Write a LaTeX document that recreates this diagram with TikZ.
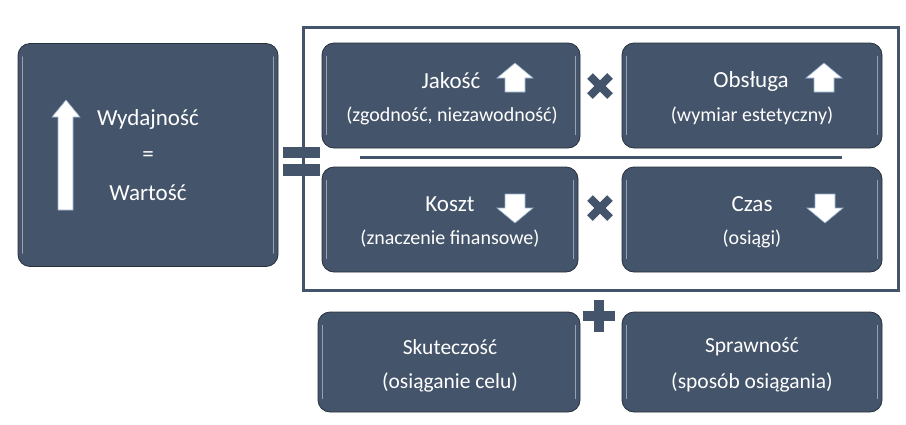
\documentclass[tikz,border=0pt]{standalone}
\usepackage{fontspec}
\setmainfont{Carlito}
\definecolor{slate}{RGB}{68,84,106}
\definecolor{slatedark}{RGB}{40,48,60}
\definecolor{edgeblue}{RGB}{150,175,205}
\tikzset{
  box/.style={draw=slatedark, line width=0.8pt, fill=slate, rounded corners=12pt, minimum width=#1, minimum height=105pt, inner sep=0pt},
  txt/.style={text=white, font=\fontsize{20}{24}\selectfont, inner sep=0pt},
  titletxt/.style={text=white, font=\fontsize{23}{27}\selectfont, inner sep=0pt},
  lefttxt/.style={text=white, font=\fontsize{23}{27}\selectfont, inner sep=0pt},
  bigtxt/.style={text=white, font=\fontsize{21.5}{25}\selectfont, inner sep=0pt},
  blockarrow/.style={fill=white, draw=edgeblue, line width=0.6pt},
  opmark/.style={draw=slate, line width=8pt},
  frame/.style={draw=slate, line width=3pt},
  gloss/.style={draw=white, opacity=0.45, line width=1.5pt, line cap=round}
}
\begin{document}
\begin{tikzpicture}[x=1pt,y=-1pt]
\useasboundingbox (0,0) rectangle (906,424);
% big frame
\node[frame, minimum width=595pt, minimum height=263pt, inner sep=0pt] (frm) at (600.5,158.5) {};
% left box
\node[box=260pt, minimum height=223pt] (wyd) at (148,155) {};
% boxes
\node[box=258pt] (jak) at (451,95.5) {};
\node[box=260pt] (obs) at (752,95.5) {};
\node[box=256pt] (kos) at (450,219.5) {};
\node[box=260pt] (cza) at (752,219.5) {};
\node[box=262pt, minimum height=100pt] (sku) at (449,362) {};
\node[box=260pt, minimum height=100pt] (spr) at (752,362) {};
% gloss edges
\foreach \n in {wyd,jak,obs,kos,cza,sku,spr}{
  \draw[gloss] ([xshift=5pt,yshift=-14pt]\n.north west) -- ([xshift=5pt,yshift=14pt]\n.south west);
  \draw[gloss] ([xshift=-5pt,yshift=-14pt]\n.north east) -- ([xshift=-5pt,yshift=14pt]\n.south east);
}
% divider line
\coordinate (dl) at (360,157);
\coordinate (dr) at (842,157);
\draw[draw=slate, line width=3pt] (dl) -- (dr);
% equals sign
\fill[slate] (283,147) rectangle (320,158);
\fill[slate] (283,164) rectangle (320,176);
% times marks
\coordinate (x1) at (600,86);
\coordinate (x2) at (600,208);
\foreach \c in {x1,x2}{
  \draw[opmark] ([shift={(-10,-10)}]\c) -- ([shift={(10,10)}]\c);
  \draw[opmark] ([shift={(-10,10)}]\c) -- ([shift={(10,-10)}]\c);
}
% plus
\coordinate (pl) at (599,316);
\draw[draw=slate, line width=10pt] ([shift={(-16,0)}]pl) -- ([shift={(16,0)}]pl);
\draw[draw=slate, line width=10pt] ([shift={(0,-16)}]pl) -- ([shift={(0,16)}]pl);
% big up arrow
\draw[blockarrow] (58,210) -- (58,117) -- (52,117) -- (66,100) -- (80,117) -- (73,117) -- (73,210) -- cycle;
% small arrows
\newcommand{\uparr}[2]{\draw[blockarrow] (#1-10,#2+14) -- (#1-10,#2) -- (#1-18,#2) -- (#1,#2-15) -- (#1+18,#2) -- (#1+10,#2) -- (#1+10,#2+14) -- cycle;}
\newcommand{\downarr}[2]{\draw[blockarrow] (#1-10,#2-14) -- (#1-10,#2) -- (#1-18,#2) -- (#1,#2+15) -- (#1+18,#2) -- (#1+10,#2) -- (#1+10,#2-14) -- cycle;}
\uparr{515}{78}
\uparr{824}{78}
\downarr{515}{208}
\downarr{825}{208}
% texts
\node[lefttxt] (t1) at (148,119) {Wydajność};
\node[lefttxt] (t2) at (148,157) {=};
\node[lefttxt] (t3) at (148,193) {Wartość};
\node[titletxt] (j1) at (451,81) {Jakość};
\node[txt] (j2) at (452,116) {(zgodność, niezawodność)};
\node[titletxt] (o1) at (751,81) {Obsługa};
\node[txt] (o2) at (752,116) {(wymiar estetyczny)};
\node[titletxt] (k1) at (450,204) {Koszt};
\node[txt] (k2) at (450,239) {(znaczenie finansowe)};
\node[titletxt] (c1) at (752,204) {Czas};
\node[txt] (c2) at (752,239) {(osiągi)};
\node[bigtxt] (s1) at (450,347) {Skuteczość};
\node[bigtxt] (s2) at (450,382) {(osiąganie celu)};
\node[bigtxt] (p1) at (752,347) {Sprawność};
\node[bigtxt] (p2) at (752,382) {(sposób osiągania)};
\end{tikzpicture}
\end{document}
